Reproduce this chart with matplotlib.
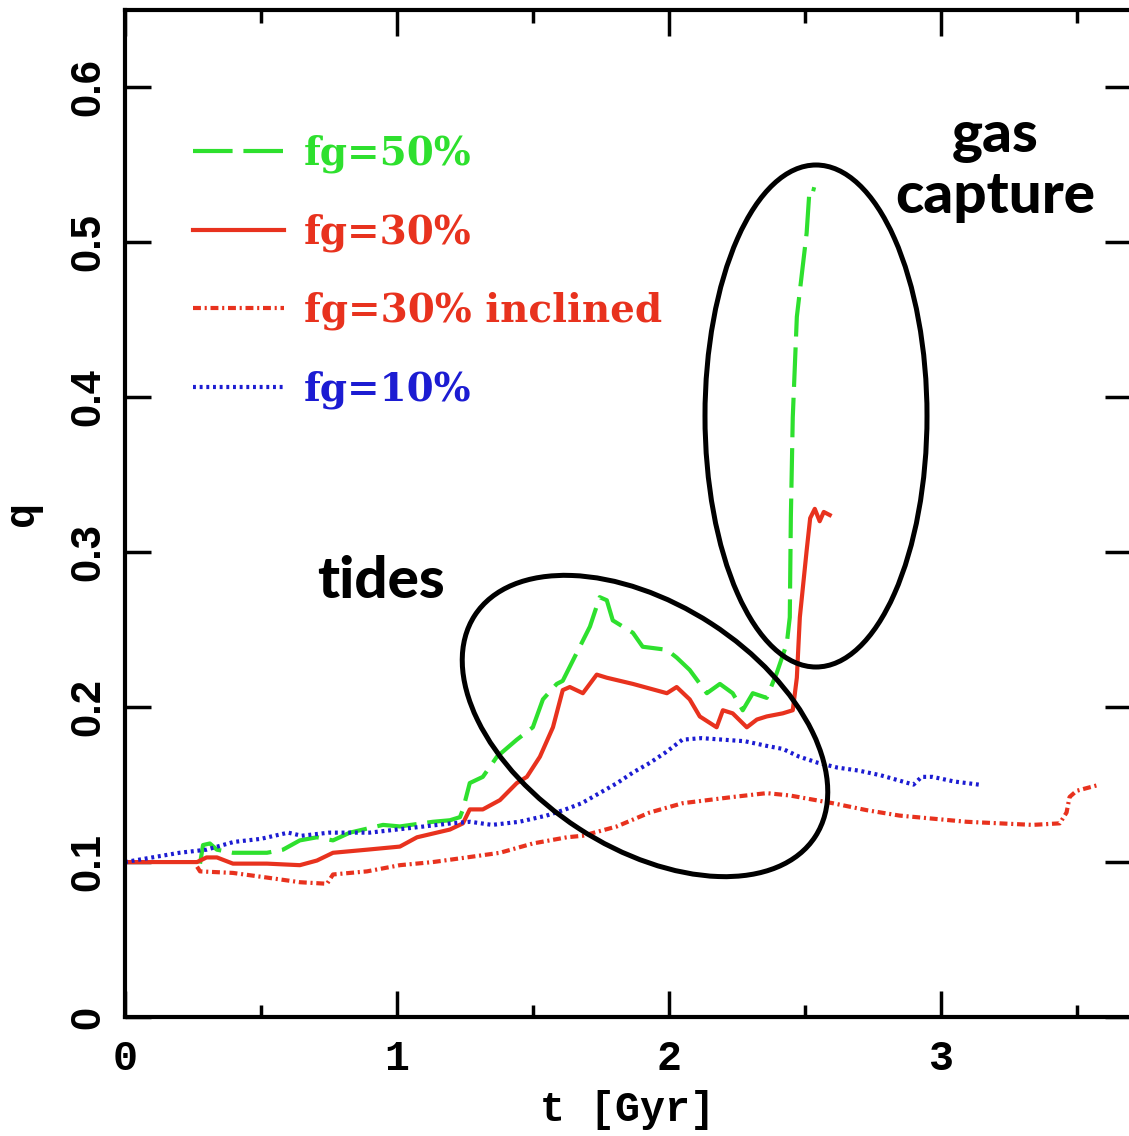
import numpy as np
import matplotlib.pyplot as plt
from matplotlib.patches import Ellipse
from matplotlib.ticker import MultipleLocator

# q(t) for each run, t in Gyr
t_fg50 = [0.276, 0.287, 0.312, 0.338, 0.397, 0.522, 0.581, 0.643, 0.706, 0.765,
          0.827, 0.949, 1.011, 1.132, 1.195, 1.232, 1.243, 1.268, 1.316, 1.368,
          1.441, 1.500, 1.537, 1.588, 1.610, 1.647, 1.710, 1.746, 1.772, 1.794,
          1.868, 1.904, 1.993, 2.029, 2.077, 2.140, 2.188, 2.235, 2.272, 2.309,
          2.360, 2.397, 2.434, 2.445, 2.449, 2.456, 2.471, 2.507, 2.518, 2.540]
q_fg50 = [0.099, 0.111, 0.112, 0.108, 0.106, 0.106, 0.108, 0.114, 0.116, 0.114,
          0.119, 0.124, 0.123, 0.126, 0.127, 0.129, 0.134, 0.151, 0.155, 0.168,
          0.179, 0.187, 0.205, 0.215, 0.217, 0.230, 0.252, 0.271, 0.269, 0.256,
          0.248, 0.239, 0.237, 0.232, 0.224, 0.209, 0.215, 0.209, 0.198, 0.209,
          0.206, 0.222, 0.241, 0.258, 0.323, 0.387, 0.452, 0.506, 0.535, 0.534]

t_fg30 = [0.0, 0.265, 0.300, 0.338, 0.397, 0.522, 0.643, 0.706, 0.765, 0.890,
          1.011, 1.074, 1.195, 1.243, 1.268, 1.316, 1.379, 1.441, 1.478, 1.526,
          1.574, 1.610, 1.636, 1.684, 1.735, 1.772, 1.868, 1.993, 2.029, 2.077,
          2.114, 2.176, 2.199, 2.235, 2.287, 2.324, 2.360, 2.419, 2.456, 2.471,
          2.482, 2.507, 2.520, 2.537, 2.555, 2.570, 2.592]
q_fg30 = [0.100, 0.100, 0.103, 0.103, 0.099, 0.099, 0.098, 0.101, 0.106, 0.108,
          0.110, 0.116, 0.121, 0.125, 0.134, 0.134, 0.140, 0.151, 0.155, 0.168,
          0.187, 0.211, 0.213, 0.209, 0.221, 0.219, 0.215, 0.209, 0.213, 0.205,
          0.194, 0.187, 0.198, 0.196, 0.187, 0.192, 0.194, 0.196, 0.198, 0.219,
          0.258, 0.301, 0.322, 0.328, 0.320, 0.326, 0.324]

t_incl = [0.265, 0.276, 0.397, 0.522, 0.643, 0.743, 0.765, 0.890, 1.011, 1.132,
          1.257, 1.379, 1.500, 1.625, 1.684, 1.809, 1.930, 2.051, 2.235, 2.360,
          2.445, 2.603, 2.728, 2.849, 3.096, 3.338, 3.438, 3.463, 3.474, 3.500,
          3.585]
q_incl = [0.097, 0.094, 0.093, 0.090, 0.087, 0.086, 0.092, 0.094, 0.098, 0.100,
          0.103, 0.106, 0.112, 0.116, 0.117, 0.123, 0.132, 0.138, 0.142, 0.1445,
          0.143, 0.138, 0.1335, 0.130, 0.126, 0.124, 0.125, 0.132, 0.142, 0.146,
          0.150]

t_fg10 = [0.0, 0.1, 0.2, 0.3, 0.4, 0.5, 0.6, 0.65, 0.75, 0.9,
          1.0, 1.1, 1.2, 1.27, 1.35, 1.45, 1.55, 1.62, 1.68, 1.75,
          1.81, 1.87, 1.93, 1.99, 2.05, 2.12, 2.2, 2.28, 2.36, 2.42,
          2.48, 2.55, 2.62, 2.7, 2.78, 2.86, 2.90, 2.93, 2.97, 3.05, 3.14]
q_fg10 = [0.100, 0.103, 0.106, 0.108, 0.113, 0.115, 0.119, 0.117, 0.119, 0.119,
          0.121, 0.123, 0.125, 0.126, 0.124, 0.126, 0.130, 0.134, 0.138, 0.145,
          0.151, 0.158, 0.164, 0.171, 0.179, 0.180, 0.179, 0.178, 0.175, 0.173,
          0.168, 0.164, 0.161, 0.159, 0.156, 0.152, 0.150, 0.155, 0.155, 0.152, 0.150]

labels = ['fg=50%', 'fg=30%', 'fg=30% inclined', 'fg=10%']
green = '#2ee02e'
red = '#e8321e'
blue = '#1c1cd2'

fig = plt.figure(figsize=(11.29, 11.36), dpi=100)
ax = fig.add_axes([125 / 1129, 119 / 1136, 1006 / 1129, 1007 / 1136])

ax.plot(t_fg50, q_fg50, color=green, lw=3, dashes=(9.5, 2.6), label=labels[0])
ax.plot(t_fg30, q_fg30, color=red, lw=3, label=labels[1])
ax.plot(t_incl, q_incl, color=red, lw=3, dashes=(1.9, 0.9, 0.5, 0.9), label=labels[2])
ax.plot(t_fg10, q_fg10, color=blue, lw=3, dashes=(0.7, 0.9), label=labels[3])

ax.set_xlim(0, 3.7)
ax.set_ylim(0, 0.65)
ax.xaxis.set_major_locator(MultipleLocator(1))
ax.xaxis.set_minor_locator(MultipleLocator(0.5))
ax.set_yticks([0, 0.1, 0.2, 0.3, 0.4, 0.5, 0.6])
ax.set_yticklabels(['0', '0.1', '0.2', '0.3', '0.4', '0.5', '0.6'])

for sp in ax.spines.values():
    sp.set_linewidth(3)
ax.tick_params(which='both', direction='in', top=True, right=True, width=2.5)
ax.tick_params(which='major', length=19)
ax.tick_params(which='minor', length=9)
ax.tick_params(axis='x', pad=16)
ax.tick_params(axis='y', pad=12)

for lab in ax.get_xticklabels():
    lab.set_fontfamily('Liberation Mono')
    lab.set_fontweight('bold')
    lab.set_fontsize(30)
for lab in ax.get_yticklabels():
    lab.set_fontfamily('Liberation Sans')
    lab.set_fontweight('bold')
    lab.set_fontsize(30)
    lab.set_rotation(90)
    lab.set_verticalalignment('center')

ax.set_xlabel('t [Gyr]', family='Liberation Mono', weight='bold', fontsize=30)
ax.xaxis.set_label_coords(0.5, -0.072)
ax.set_ylabel('q', family='Liberation Mono', weight='bold', fontsize=30)
ax.yaxis.set_label_coords(-0.083, 0.5)

ax.legend(loc='upper left', bbox_to_anchor=(0.0676, 0.876), frameon=False,
          prop={'family': 'DejaVu Serif', 'weight': 'bold', 'size': 28},
          labelcolor='linecolor', handlelength=2.35, handletextpad=0.5,
          labelspacing=1.03, borderpad=0, borderaxespad=0)

# annotation layer in pixel units
over = fig.add_axes([0, 0, 1, 1])
over.set_xlim(0, 1129)
over.set_ylim(1136, 0)
over.axis('off')
over.add_patch(Ellipse((645, 726), 406, 244, angle=33, fill=False, lw=3.6, ec='black'))
over.add_patch(Ellipse((816, 416), 222, 502, angle=0, fill=False, lw=3.6, ec='black'))
font_note = dict(family='Lato', weight='black', fontsize=42, ha='center', va='baseline')
over.text(381, 598, 'tides', **font_note)
over.text(995, 152, 'gas', **font_note)
over.text(995, 213, 'capture', **font_note)

fig.savefig('out.png', dpi=100)
